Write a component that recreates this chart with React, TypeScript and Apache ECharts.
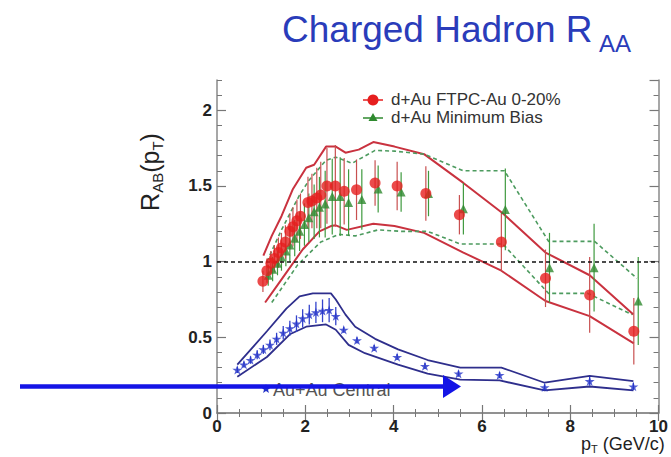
import React, { useEffect, useRef } from "react";
import * as echarts from "echarts";

// d+Au FTPC-Au 0-20% (red circles)
const redX = [1.04, 1.13, 1.22, 1.30, 1.39, 1.46, 1.55, 1.65, 1.72, 1.81, 1.89, 2.06, 2.15, 2.26, 2.35, 2.49, 2.68, 2.88, 3.16, 3.58, 4.08, 4.73, 5.49, 6.44, 7.44, 8.44, 9.44];
const redY = [0.87, 0.94, 0.99, 1.02, 1.06, 1.09, 1.13, 1.20, 1.23, 1.27, 1.30, 1.39, 1.40, 1.42, 1.44, 1.50, 1.50, 1.465, 1.475, 1.52, 1.50, 1.45, 1.31, 1.13, 0.89, 0.78, 0.54];
const redErr = [0.07, 0.08, 0.08, 0.09, 0.1, 0.1, 0.11, 0.12, 0.13, 0.14, 0.15, 0.17, 0.18, 0.2, 0.22, 0.25, 0.27, 0.22, 0.2, 0.15, 0.16, 0.18, 0.13, 0.19, 0.19, 0.25, 0.22];

// d+Au Minimum Bias (green triangles)
const greenX = [1.16, 1.26, 1.37, 1.46, 1.56, 1.65, 1.76, 1.87, 1.98, 2.08, 2.20, 2.32, 2.45, 2.61, 2.79, 2.98, 3.28, 3.65, 4.17, 4.79, 5.58, 6.53, 7.53, 8.54, 9.54];
const greenY = [0.91, 0.95, 0.99, 1.03, 1.07, 1.11, 1.155, 1.20, 1.245, 1.29, 1.33, 1.36, 1.38, 1.43, 1.43, 1.39, 1.41, 1.48, 1.46, 1.45, 1.35, 1.345, 0.96, 0.96, 0.74];
const greenErr = [0.07, 0.08, 0.08, 0.09, 0.1, 0.11, 0.12, 0.13, 0.14, 0.16, 0.18, 0.2, 0.22, 0.25, 0.26, 0.22, 0.2, 0.155, 0.13, 0.15, 0.17, 0.27, 0.23, 0.29, 0.29];

// Au+Au Central (blue stars)
const blueX = [0.46, 0.61, 0.76, 0.91, 1.05, 1.20, 1.35, 1.50, 1.65, 1.80, 1.94, 2.09, 2.24, 2.39, 2.54, 2.69, 2.87, 3.17, 3.56, 4.08, 4.71, 5.47, 6.40, 7.42, 8.44, 9.43];
const blueY = [0.285, 0.32, 0.35, 0.385, 0.42, 0.45, 0.49, 0.53, 0.56, 0.59, 0.625, 0.65, 0.665, 0.675, 0.68, 0.64, 0.55, 0.48, 0.43, 0.37, 0.31, 0.26, 0.25, 0.17, 0.21, 0.175];
const blueErr = [0.02, 0.02, 0.025, 0.03, 0.03, 0.035, 0.04, 0.045, 0.05, 0.055, 0.06, 0.065, 0.07, 0.075, 0.08, 0.06, 0.02, 0.02, 0.02, 0.02, 0.02, 0.02, 0.02, 0.02, 0.03, 0.025];

// systematic bands
const redSysHiX = [1.05, 1.24, 1.46, 1.72, 2.02, 2.20, 2.47, 2.69, 2.91, 3.21, 3.54, 4.02, 4.69, 5.58, 6.47, 7.44, 8.44, 9.43];
const redSysHiY = [1.04, 1.17, 1.30, 1.48, 1.62, 1.64, 1.76, 1.76, 1.72, 1.74, 1.79, 1.76, 1.71, 1.52, 1.32, 1.06, 0.91, 0.65];
const redSysLoX = [1.09, 1.43, 1.94, 2.32, 2.58, 2.69, 2.94, 3.54, 4.02, 4.69, 5.58, 6.44, 7.44, 8.44, 9.44];
const redSysLoY = [0.73, 0.87, 1.08, 1.20, 1.235, 1.24, 1.21, 1.25, 1.235, 1.19, 1.06, 0.94, 0.74, 0.64, 0.46];
const greenSysHiX = [1.13, 1.46, 1.87, 2.09, 2.47, 2.69, 3.06, 3.58, 4.02, 4.69, 5.58, 6.51, 7.51, 8.55, 9.51];
const greenSysHiY = [1.0, 1.21, 1.44, 1.54, 1.67, 1.69, 1.65, 1.735, 1.73, 1.71, 1.60, 1.60, 1.134, 1.134, 0.89];
const greenSysLoX = [1.24, 1.83, 2.35, 2.76, 3.13, 3.65, 4.17, 4.77, 5.51, 6.47, 7.51, 8.40, 9.40];
const greenSysLoY = [0.73, 0.98, 1.13, 1.18, 1.17, 1.21, 1.20, 1.20, 1.117, 1.117, 0.79, 0.79, 0.65];
const blueSysHiX = [0.46, 1.13, 1.57, 1.87, 2.17, 2.58, 2.69, 2.91, 3.13, 3.58, 4.10, 4.77, 5.51, 6.44, 7.42, 8.44, 9.43];
const blueSysHiY = [0.32, 0.54, 0.69, 0.77, 0.79, 0.79, 0.75, 0.65, 0.57, 0.49, 0.42, 0.35, 0.30, 0.30, 0.20, 0.245, 0.21];
const blueSysLoX = [0.46, 1.13, 1.65, 2.02, 2.47, 2.69, 2.98, 3.35, 4.10, 4.77, 5.51, 6.40, 7.42, 8.44, 9.43];
const blueSysLoY = [0.24, 0.37, 0.52, 0.57, 0.585, 0.55, 0.45, 0.395, 0.32, 0.26, 0.22, 0.215, 0.15, 0.175, 0.15];

const legendNames = ["d+Au FTPC-Au 0-20%", "d+Au Minimum Bias", "Au+Au Central"];

const FONT = "'Liberation Sans', Arial, Helvetica, sans-serif";
const RED = "#e61e1e";
const RED_BAND = "#c9323f";
const GREEN = "#2f8a2f";
const GREEN_BAND = "#4d9b5f";
const BLUE = "#2433c8";
const BLUE_BAND = "#2e2e8c";
const STAR = "path://M50,0 L61,35 98,35 68,57 79,91 50,70 21,91 32,57 2,35 39,35 Z";

const zip = (xs: number[], ys: number[]) => xs.map((x, i) => [x, ys[i]]);
const errData = (xs: number[], ys: number[], es: number[]) =>
  xs.map((x, i) => [x, ys[i] - es[i], ys[i] + es[i]]);

function starPoints(cx: number, cy: number, r: number) {
  const pts: number[][] = [];
  for (let i = 0; i < 10; i++) {
    const rr = i % 2 === 0 ? r : r * 0.42;
    const a = -Math.PI / 2 + (i * Math.PI) / 5;
    pts.push([cx + rr * Math.cos(a), cy + rr * Math.sin(a)]);
  }
  return pts;
}

function errSeries(data: number[][], color: string, width: number) {
  return {
    type: "custom",
    silent: true,
    encode: { x: 0, y: [1, 2] },
    data,
    z: 3,
    renderItem: (_p: any, api: any) => {
      const x = api.value(0);
      const a = api.coord([x, api.value(1)]);
      const b = api.coord([x, api.value(2)]);
      return {
        type: "line",
        shape: { x1: a[0], y1: a[1], x2: b[0], y2: b[1] },
        style: { stroke: color, lineWidth: width },
      };
    },
  };
}

function bandSeries(data: number[][], color: string, width: number, dashed: boolean) {
  return {
    type: "line",
    data,
    symbol: "none",
    silent: true,
    z: 2,
    lineStyle: { color, width, type: dashed ? [4, 3] : "solid" },
  };
}

const tickLabel = { fontSize: 17, fontWeight: "bold", color: "#222", fontFamily: FONT };

export default function App() {
  const ref = useRef<HTMLDivElement>(null);
  useEffect(() => {
    const chart = echarts.init(ref.current!, null, { renderer: "svg" });
    const axisLine = { show: true, lineStyle: { color: "#8a8a8a", width: 1.5 } };
    const majorY = (pos: string, labels: boolean) => ({
      type: "value",
      position: pos,
      min: 0,
      max: 2.2,
      interval: 0.5,
      axisLine,
      axisTick: { show: true, inside: true, length: 9, lineStyle: { color: "#777", width: 1.2 } },
      axisLabel: labels ? { ...tickLabel, margin: 5, showMaxLabel: false } : { show: false },
      splitLine: { show: false },
    });
    const minorY = (pos: string) => ({
      type: "value",
      position: pos,
      min: 0,
      max: 2.2,
      interval: 0.1,
      axisLine: { show: false },
      axisTick: { show: true, inside: true, length: 5, lineStyle: { color: "#777", width: 1 } },
      axisLabel: { show: false },
      splitLine: { show: false },
    });
    const xAx = (pos: string, labels: boolean) => ({
      type: "value",
      position: pos,
      min: 0,
      max: 10,
      interval: 2,
      axisLine,
      axisTick: { show: true, inside: true, length: 8, lineStyle: { color: "#777", width: 1.2 } },
      minorTick: { show: true, splitNumber: 4, length: 4, lineStyle: { color: "#777", width: 1 } },
      axisLabel: labels ? { ...tickLabel, margin: 5 } : { show: false },
      splitLine: { show: false },
      minorSplitLine: { show: false },
    });

    const star = starPoints(266, 389, 5);

    chart.setOption({
      animation: false,
      backgroundColor: "#ffffff",
      grid: { left: 217, right: 5, top: 80, bottom: 44, containLabel: false },
      xAxis: [xAx("bottom", true), xAx("top", false)],
      yAxis: [majorY("left", true), minorY("left"), majorY("right", false), minorY("right")],
      series: [
        {
          ...bandSeries(zip(redSysHiX, redSysHiY), RED_BAND, 2, false),
          markLine: {
            silent: true,
            symbol: ["none", "none"],
            label: { show: false },
            lineStyle: { type: [4, 3], color: "#111", width: 1.5 },
            data: [{ yAxis: 1 }],
          },
        },
        bandSeries(zip(redSysLoX, redSysLoY), RED_BAND, 2, false),
        bandSeries(zip(greenSysHiX, greenSysHiY), GREEN_BAND, 1.6, true),
        bandSeries(zip(greenSysLoX, greenSysLoY), GREEN_BAND, 1.6, true),
        bandSeries(zip(blueSysHiX, blueSysHiY), BLUE_BAND, 1.8, false),
        bandSeries(zip(blueSysLoX, blueSysLoY), BLUE_BAND, 1.8, false),
        errSeries(errData(greenX, greenY, greenErr), "#3f9a3f", 1.2),
        errSeries(errData(redX, redY, redErr), "#c85050", 1.2),
        errSeries(errData(blueX, blueY, blueErr), "#3444cc", 1.3),
        {
          name: legendNames[1],
          type: "scatter",
          data: zip(greenX, greenY),
          symbol: "triangle",
          symbolSize: 9,
          itemStyle: { color: GREEN },
          z: 4,
        },
        {
          name: legendNames[0],
          type: "scatter",
          data: zip(redX, redY),
          symbol: "circle",
          symbolSize: 11,
          itemStyle: { color: RED },
          z: 5,
        },
        {
          name: legendNames[2],
          type: "scatter",
          data: zip(blueX, blueY),
          symbol: STAR,
          symbolSize: 10,
          symbolKeepAspect: true,
          itemStyle: { color: BLUE },
          z: 5,
        },
      ],
      graphic: [
        {
          type: "text",
          x: 282,
          y: 29,
          style: { text: "Charged Hadron R", font: `37px ${FONT}`, fill: "#2a3cba", align: "left", verticalAlign: "middle" },
        },
        {
          type: "text",
          x: 599,
          y: 43,
          style: { text: "AA", font: `24px ${FONT}`, fill: "#2a3cba", align: "left", verticalAlign: "middle" },
        },
        {
          type: "text",
          x: 150,
          y: 172,
          rotation: Math.PI / 2,
          style: {
            text: "{r|R}{s|AB}{r|(p}{s|T}{r|)}",
            align: "center",
            verticalAlign: "middle",
            fill: "#222",
            rich: {
              r: { fontSize: 25, fontFamily: FONT, lineHeight: 30, fill: "#222" },
              s: { fontSize: 15, fontFamily: FONT, lineHeight: 14, verticalAlign: "bottom", fill: "#222" },
            },
          },
        },
        {
          type: "text",
          x: 581,
          y: 444,
          style: {
            text: "{r|p}{s|T}{r| (GeV/c)}",
            align: "left",
            verticalAlign: "middle",
            fill: "#222",
            rich: {
              r: { fontSize: 18, fontFamily: FONT, lineHeight: 20, fill: "#222" },
              s: { fontSize: 11, fontFamily: FONT, lineHeight: 10, verticalAlign: "bottom", fill: "#222" },
            },
          },
        },
        // legend
        { type: "line", shape: { x1: 363, y1: 100, x2: 383, y2: 100 }, style: { stroke: RED, lineWidth: 1.5 } },
        { type: "circle", shape: { cx: 373, cy: 100, r: 5.5 }, style: { fill: RED } },
        { type: "text", x: 391, y: 99.5, style: { text: legendNames[0], font: `17px ${FONT}`, fill: "#333", align: "left", verticalAlign: "middle" } },
        { type: "line", shape: { x1: 363, y1: 118, x2: 383, y2: 118 }, style: { stroke: GREEN, lineWidth: 1.5 } },
        { type: "polygon", shape: { points: [[373, 113], [377.5, 121], [368.5, 121]] }, style: { fill: GREEN } },
        { type: "text", x: 391, y: 117.5, style: { text: legendNames[1], font: `17px ${FONT}`, fill: "#333", align: "left", verticalAlign: "middle" } },
        { type: "polygon", shape: { points: star }, style: { fill: BLUE } },
        { type: "text", x: 273, y: 390, style: { text: legendNames[2], font: `18px ${FONT}`, fill: "#555", align: "left", verticalAlign: "middle" } },
        // blue arrow annotation
        { type: "line", z: 100, shape: { x1: 20, y1: 386.5, x2: 448, y2: 386.5 }, style: { stroke: "#1414e6", lineWidth: 4.5 } },
        { type: "polygon", z: 100, shape: { points: [[443, 375], [461, 386.5], [443, 398]] }, style: { fill: "#1414e6" } },
      ],
    });
    return () => chart.dispose();
  }, []);
  return <div ref={ref} style={{ position: "fixed", left: 0, top: 0, width: 671, height: 457 }} />;
}
